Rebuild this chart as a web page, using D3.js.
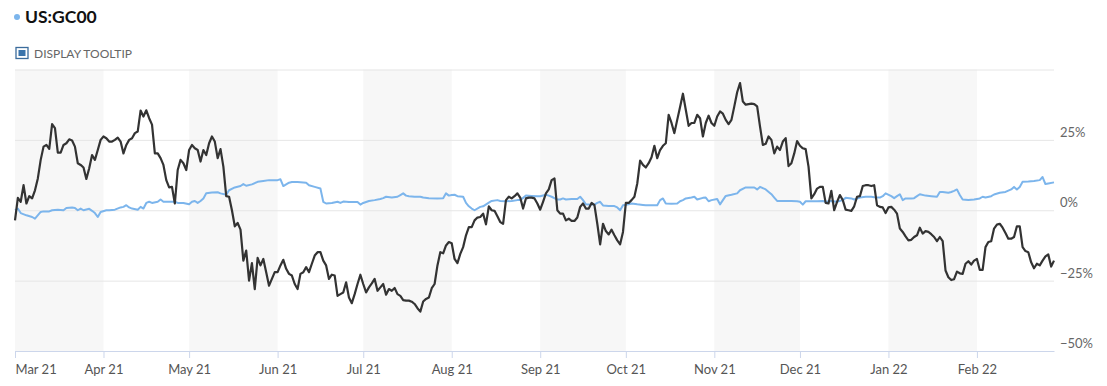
<!DOCTYPE html>
<html>
<head>
<meta charset="utf-8">
<script src="https://cdn.jsdelivr.net/npm/d3@7"></script>
<style>
  body { margin: 0; background: #fff; }
  text { font-family: Lato, "Open Sans", sans-serif; }
</style>
</head>
<body>
<svg id="chart" width="1107" height="386"></svg>
<script>
const svg = d3.select('#chart')
const parse = d3.timeParse('%y%m%d')

const title = 'US:GC00'
const toggleLabel = 'DISPLAY TOOLTIP'

const tickMonths = ['210301', '210401', '210501', '210601', '210701', '210801', '210901', '211001', '211101', '211201', '220101', '220201']
const tickLabels = ['Mar 21', 'Apr 21', 'May 21', 'Jun 21', 'Jul 21', 'Aug 21', 'Sep 21', 'Oct 21', 'Nov 21', 'Dec 21', 'Jan 22', 'Feb 22']
const yTicks = [-50, -25, 0, 25]
const yTickLabels = ['\u221250%', '\u221225%', '0%', '25%']
const gridValues = [-25, 0, 25, 50]

// black series: % change, one value a day from 1 Mar 2021 to 28 Feb 2022
const stockFirstDay = '210301'
const stockLastDay = '220228'
const stockValues = [
  -3.6, 4.4, 3.0, 8.9, 2.4, 5.0, 4.2, 7.1, 11.3, 17.9, 22.6, 23.2, 21.8, 30.6, 29.2, 20.5, 20.5, 23.2, 23.8, 25.2,
  24.8, 22.6, 16.7, 16.1, 15.2, 11.1, 14.9, 19.6, 17.9, 21.4, 25.0, 26.2, 25.6, 24.4, 24.4, 25.0, 25.8, 24.4, 20.2, 23.2,
  25.0, 25.6, 27.4, 28.0, 35.4, 33.3, 35.5, 32.7, 30.4, 20.2, 20.2, 18.5, 16.1, 10.7, 8.1, 8.3, 2.4, 14.3, 17.9, 16.7,
  14.3, 21.4, 23.2, 22.0, 21.4, 17.3, 21.4, 19.6, 23.8, 26.2, 24.4, 18.5, 21.7, 15.5, 5.0, 4.8, 0, -5.7, -4.5, -6.9,
  -17.9, -14.3, -25, -18.8, -28, -16.9, -19.6, -17.3, -22, -26.8, -24.4, -22, -22, -19.6, -17.6, -20.8, -22.6, -23.2, -26.2, -28,
  -22.6, -22, -20.2, -22, -19, -16.1, -14.9, -14.9, -17.9, -19.6, -24.4, -22.9, -23.2, -30.4, -29.8, -29.2, -25.6, -31, -33, -29.8,
  -26.2, -22.9, -26.2, -29.2, -27.4, -26, -24.4, -28.6, -27.4, -26.2, -30, -28, -28.6, -27.6, -29.8, -30.4, -31.9, -32.1, -32.1, -32.5,
  -33.3, -34.8, -36, -32.4, -31.5, -31, -27.7, -26.2, -19.6, -14.9, -15.3, -12.5, -11.3, -11.7, -17.3, -18.8, -15.5, -13.1, -8.9, -6,
  -6, -3.6, -2.6, -2.4, -1.2, -5, 1.4, 0, -0.2, -2.1, -4.2, -4.8, 3.6, 4.8, 4.2, 5, 6, 4.5, 0.6, 4.2,
  4.5, 4.5, 4.2, 2.4, 0.2, 3, 6, 7.4, 10.7, 11.3, 0, -1.2, -1.2, -3.6, -3, -3.8, -3.8, -2.6, 1.2, 2.4,
  0.6, 0.6, 2.6, 1.8, -4.8, -12.1, -4.8, -7.4, -8.6, -6.9, -8.9, -10.7, -12.1, -7.7, 2.6, 2.6, 3.6, 4.8, 9.5, 17.6,
  16.1, 15.2, 16.7, 18.8, 22.9, 18.5, 21.4, 22.9, 23.8, 33.9, 31, 27.4, 32.1, 36.7, 41.4, 35.7, 30, 31, 31, 33.9,
  32.7, 26.2, 31, 33.6, 31, 30, 33.3, 35.1, 34.3, 32.1, 30.6, 32.1, 36.9, 41.9, 45.2, 38.6, 37.5, 37.7, 37.9, 37.7,
  36.9, 29.8, 23.2, 23.6, 26.2, 25, 20.2, 22.6, 21.4, 24.4, 25.6, 15.7, 16.7, 20.2, 24.6, 22.9, 22.0, 21.7, 15.5, 4.2,
  5.7, 7.7, 8.3, 8.3, 2.6, 2.4, 6.9, 0, 3.0, 5.4, 3.6, 0.2, 0, -0.2, 1.4, 4.8, 5, 8.6, 8.9, 8.9,
  8.6, 8.9, 1.8, 1.2, 1, -1, 1, 1.2, 0.2, -1.2, -6.5, -7.7, -9.3, -10.7, -10.5, -9.5, -8.9, -6.2, -8.3, -7.4,
  -7.7, -8.5, -9.5, -11, -9.5, -11, -21.4, -23.8, -24.8, -24.5, -21.8, -22.4, -22.6, -19, -18.1, -19.3, -17.9, -17.3, -21.2, -21.2,
  -13.1, -11.3, -11, -6.5, -5.1, -4.8, -6.2, -8.1, -10.1, -10.1, -9.5, -5.7, -5.7, -13.1, -14.5, -14.9, -18.5, -20.6, -19, -19.6,
  -17.9, -16.4, -15.7, -20, -17.9
]

// blue series US:GC00, % change
const goldDates = [
  '210301', '210302', '210303', '210305', '210307', '210308', '210310', '210311', '210313', '210314', '210316', '210318', '210319', '210321', '210322',
  '210323', '210324', '210325', '210327', '210328', '210329', '210330', '210331', '210402', '210403', '210405', '210407', '210408', '210409', '210410',
  '210411', '210413', '210414', '210415', '210416', '210417', '210418', '210420', '210421', '210422', '210424', '210426', '210427', '210429', '210501',
  '210502', '210503', '210504', '210505', '210506', '210507', '210509', '210511', '210512', '210514', '210515', '210517', '210519', '210520', '210521',
  '210523', '210525', '210527', '210529', '210601', '210602', '210603', '210605', '210606', '210608', '210611', '210612', '210614', '210616', '210617',
  '210618', '210620', '210622', '210623', '210624', '210626', '210628', '210629', '210630', '210701', '210703', '210705', '210707', '210708', '210709',
  '210711', '210713', '210714', '210715', '210716', '210717', '210719', '210721', '210722', '210724', '210727', '210729', '210730', '210731', '210801',
  '210802', '210803', '210805', '210806', '210807', '210808', '210809', '210811', '210812', '210814', '210815', '210817', '210818', '210820', '210822',
  '210824', '210825', '210827', '210829', '210831', '210901', '210903', '210904', '210905', '210907', '210908', '210909', '210910', '210912', '210914',
  '210915', '210916', '210917', '210918', '210920', '210921', '210922', '210923', '210925', '210927', '210928', '210929', '210930', '211002', '211003',
  '211005', '211007', '211008', '211010', '211012', '211013', '211014', '211015', '211017', '211019', '211020', '211021', '211022', '211024', '211025',
  '211026', '211028', '211029', '211030', '211031', '211102', '211103', '211104', '211105', '211107', '211109', '211110', '211112', '211114', '211115',
  '211116', '211117', '211119', '211121', '211122', '211123', '211125', '211128', '211130', '211201', '211202', '211203', '211205', '211207', '211209',
  '211210', '211212', '211214', '211216', '211217', '211219', '211220', '211222', '211224', '211226', '211227', '211229', '211230', '211231', '220102',
  '220103', '220104', '220105', '220106', '220107', '220109', '220110', '220111', '220112', '220114', '220116', '220118', '220119', '220120', '220122',
  '220123', '220124', '220125', '220126', '220127', '220129', '220131', '220202', '220203', '220204', '220206', '220207', '220209', '220211', '220213',
  '220214', '220215', '220216', '220217', '220219', '220221', '220223', '220224', '220225', '220226', '220228'
]
const goldValues = [
  0, 0.6, -1, -1.8, -2.4, -3, -0.6, -0.4, -0.4, 0, 0.2, 0, 0.8, 1, 0.8,
  0, 0.6, 0, 0.5, -0.2, -1, -2.4, -0.6, 0, 0, 0.2, 1, 1.2, 1.8, 1,
  0.6, 0.2, 1.2, 0.6, 2.6, 3, 2.6, 3, 3.8, 3, 3, 3, 2.6, 2.6, 2.1,
  3, 3.3, 2.6, 3.3, 4.2, 6, 6.3, 6.4, 6, 5.5, 7.1, 8.1, 8.6, 9.3, 8.7,
  9.2, 10.1, 10.4, 10.7, 10.7, 11, 8.6, 9.8, 10, 10, 9.8, 8.9, 8.3, 7.7, 3,
  2.4, 2.6, 3, 2.6, 3.1, 2.9, 2.9, 2.9, 2, 2.6, 3.3, 3.6, 4, 4.3, 4.8,
  4.5, 4.8, 5.4, 6, 5.2, 5, 4.8, 4.8, 4.5, 4.3, 4.2, 4.3, 6, 5.2, 5.4,
  5.5, 5, 4.8, 2.6, 1.4, 0.6, 0, 1.2, 1.4, 2.7, 3.3, 3.6, 3.3, 3.2, 3.3,
  3.6, 3.6, 5.2, 5.1, 5, 5, 5.5, 5.2, 4.8, 3.8, 3.8, 4.2, 3.8, 4, 4,
  4.8, 3.6, 2.1, 2, 2, 2.6, 3, 1.7, 1.5, 1.5, 1, 0, 1.8, 2.1, 2.4,
  2.1, 1.9, 1.8, 1.8, 1.8, 3.6, 4.2, 2.4, 2.3, 2.4, 3.2, 3.6, 4.2, 4.5, 4.8,
  3.8, 4.4, 4.5, 3.2, 3.6, 4, 2.1, 3.6, 5.1, 5.5, 6, 7.1, 8.1, 8.1, 8.1,
  7.4, 8.3, 7.4, 5.7, 4.5, 3.3, 3.3, 3.3, 3.2, 3, 2, 3.2, 3.2, 3.2, 3.3,
  3, 3.3, 3, 3.6, 4.4, 4.2, 3.8, 4.5, 4.8, 4.8, 4.6, 4.5, 5, 6, 5,
  4.3, 5, 5.7, 3.6, 4.2, 4.2, 4.3, 5, 5.7, 5.2, 5, 4.8, 6.5, 6.5, 6.2,
  6.5, 6.9, 7.4, 5.4, 3.8, 3.6, 3.8, 4.2, 4.8, 4.5, 5, 5.6, 6.2, 6.5, 7.4,
  8.3, 7.4, 8.3, 10.1, 10.2, 10.4, 10.7, 11.8, 9.3, 9.5, 9.9
]

const stockColor = '#333333'
const goldColor = '#7cb5ec'
const labelColor = '#666666'

const plotLeft = 15
const plotRight = 1054
const plotTop = 69.5
const plotBottom = 351

const stockDays = d3.timeDay.range(parse(stockFirstDay), d3.timeDay.offset(parse(stockLastDay), 1))
const stock = stockDays.map((d, i) => ({ date: d, value: stockValues[i] }))
const gold = goldDates.map((d, i) => ({ date: parse(d), value: goldValues[i] }))
const months = tickMonths.map(parse)

const xScale = d3.scaleTime()
  .domain([parse(stockFirstDay), parse(stockLastDay)])
  .range([plotLeft, plotRight])

const yScale = d3.scaleLinear()
  .domain([-50, 50])
  .range([plotBottom, plotTop])

// header
svg.append('circle').attr('cx', 17).attr('cy', 17).attr('r', 3).attr('fill', goldColor)
svg.append('text').attr('x', 25).attr('y', 23)
  .text(title)
  .style('font-size', '17.5px').style('font-weight', 'bold').attr('fill', '#111')

svg.append('rect').attr('x', 16).attr('y', 47.5).attr('width', 12).attr('height', 11)
  .attr('fill', '#fff').attr('stroke', '#3b6c9c').attr('stroke-width', 1.3)
svg.append('rect').attr('x', 18.5).attr('y', 50).attr('width', 7).attr('height', 6)
  .attr('fill', '#3a74ab')
svg.append('text').attr('x', 34).attr('y', 57.5)
  .text(toggleLabel)
  .style('font-size', '12px').attr('fill', labelColor)

// alternating month bands
svg.append('g')
  .selectAll('rect')
  .data(months.filter((d, i) => i % 2 === 0))
  .enter()
  .append('rect')
    .attr('x', d => xScale(d))
    .attr('y', plotTop)
    .attr('width', d => Math.min(xScale(d3.timeMonth.offset(d, 1)), plotRight) - xScale(d))
    .attr('height', plotBottom - plotTop)
    .attr('fill', '#f7f7f7')

// horizontal grid
const grid = svg.append('g')
  .attr('transform', `translate(${plotLeft}, 0)`)
  .call(d3.axisLeft(yScale).tickValues(gridValues).tickSize(-(plotRight - plotLeft)).tickFormat(''))
grid.select('path.domain').remove()
grid.selectAll('.tick line').attr('stroke', '#e6e6e6')

// right-hand labels
svg.append('g')
  .selectAll('text')
  .data(yTicks)
  .enter()
  .append('text')
    .attr('x', 1060)
    .attr('y', d => yScale(d) - 3)
    .text((d, i) => yTickLabels[i])
    .style('font-size', '13px')
    .attr('fill', labelColor)

// bottom axis
const xAxis = svg.append('g')
  .attr('transform', `translate(0, ${plotBottom})`)
  .call(d3.axisBottom(xScale).tickValues(months).tickFormat((d, i) => tickLabels[i]).tickSize(7).tickSizeOuter(0))
xAxis.select('path.domain').attr('stroke', '#ccd6eb')
xAxis.selectAll('.tick line').attr('stroke', '#ccd6eb')
xAxis.selectAll('.tick text')
  .attr('fill', '#555')
  .attr('dy', '1em')
  .style('font-size', '13px')
  .style('font-family', 'Lato, sans-serif')
xAxis.select('.tick text').attr('text-anchor', 'start')

// lines
const line = d3.line()
  .x(d => xScale(d.date))
  .y(d => yScale(d.value))

svg.append('path')
  .datum(gold)
  .attr('d', line)
  .attr('fill', 'none')
  .attr('stroke', goldColor)
  .attr('stroke-width', 2)
  .attr('stroke-linejoin', 'round')

svg.append('path')
  .datum(stock)
  .attr('d', line)
  .attr('fill', 'none')
  .attr('stroke', stockColor)
  .attr('stroke-width', 2.2)
  .attr('stroke-linejoin', 'round')
</script>
</body>
</html>
